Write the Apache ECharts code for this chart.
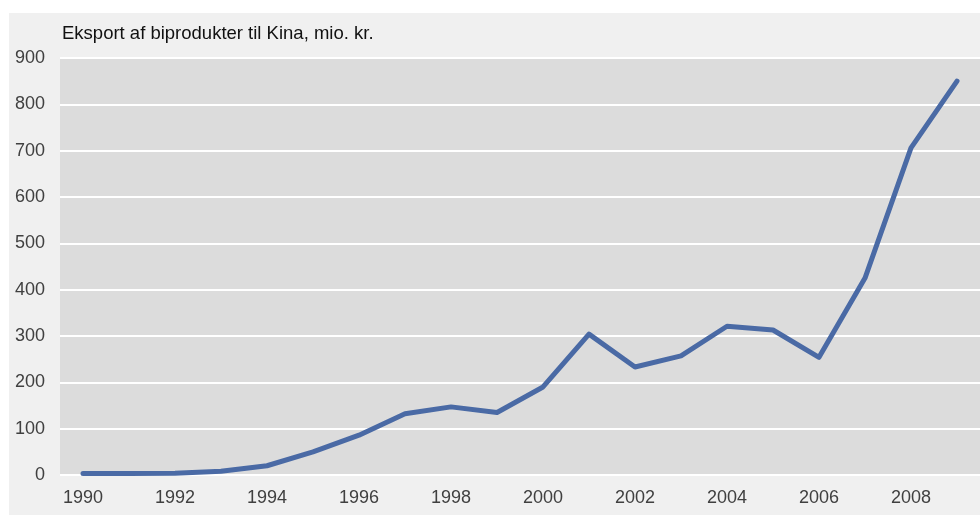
<!DOCTYPE html>
<html>
<head>
<meta charset="utf-8">
<script src="https://cdn.jsdelivr.net/npm/echarts@6/dist/echarts.min.js"></script>
<style>
  html, body { margin: 0; padding: 0; background: #fff; }
  #chart { width: 980px; height: 515px; }
</style>
</head>
<body>
<div id="chart"></div>
<script>
// data
const years = ['1990', '1991', '1992', '1993', '1994', '1995', '1996', '1997', '1998', '1999',
  '2000', '2001', '2002', '2003', '2004', '2005', '2006', '2007', '2008', '2009']
const exportValues = [3, 3, 4, 8, 20, 50, 86, 132, 147, 135,
  190, 304, 233, 257, 321, 313, 254, 425, 706, 850]
const titleText = 'Eksport af biprodukter til Kina, mio. kr.'

const font = '"Liberation Sans", Arial, sans-serif'

const chart = echarts.init(document.getElementById('chart'))

const option = {
  backgroundColor: '#ffffff',
  animation: false,
  graphic: [{
    type: 'rect',
    z: -10,
    shape: { x: 9, y: 13, width: 980, height: 510 },
    style: { fill: '#F0F0F0' }
  }],
  title: {
    text: titleText,
    left: 57,
    top: 19,
    textStyle: {
      fontFamily: font,
      fontSize: 18.5,
      fontWeight: 'normal',
      color: '#111111'
    }
  },
  grid: {
    left: 60,
    top: 58,
    width: 927,
    height: 417,
    show: true,
    backgroundColor: '#DCDCDC',
    borderWidth: 0
  },
  xAxis: {
    type: 'category',
    boundaryGap: true,
    data: years,
    axisLine: { show: false },
    axisTick: { show: false },
    axisLabel: {
      interval: 1,
      margin: 14,
      fontFamily: font,
      fontSize: 18,
      color: '#404040'
    }
  },
  yAxis: {
    type: 'value',
    min: 0,
    max: 900,
    interval: 100,
    axisLine: { show: false },
    axisTick: { show: false },
    axisLabel: {
      margin: 15,
      fontFamily: font,
      fontSize: 18,
      color: '#404040'
    },
    splitLine: {
      lineStyle: { color: '#ffffff', width: 2 }
    }
  },
  series: [{
    name: 'Eksport',
    type: 'line',
    data: exportValues,
    showSymbol: false,
    symbol: 'none',
    lineStyle: {
      color: '#4A6AA5',
      width: 5,
      cap: 'round',
      join: 'round'
    }
  }]
}

chart.setOption(option)
</script>
</body>
</html>
